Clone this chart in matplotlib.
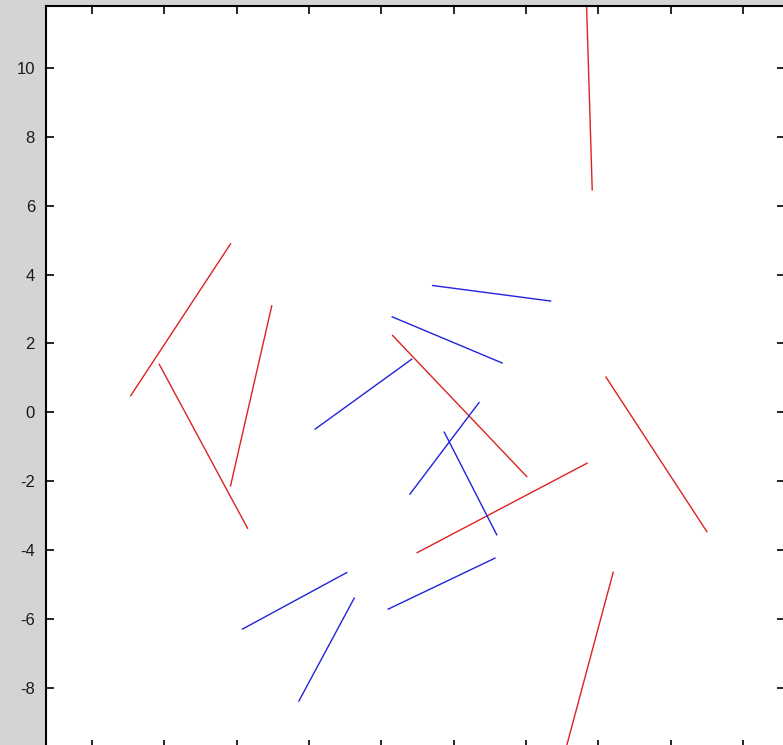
import matplotlib
matplotlib.use('Agg')
import matplotlib.pyplot as plt

# segment end points (data units), red set
red_x0 = [-6.93, -6.14, -3.03, 5.66, 0.31, 0.99, 6.21, 6.41]
red_y0 = [0.48, 1.39, 3.09, 12.27, 2.23, -4.08, 1.02, -4.65]
red_x1 = [-4.17, -3.70, -4.17, 5.83, 4.02, 5.69, 9.00, 4.98]
red_y1 = [4.89, -3.37, -2.14, 6.46, -1.87, -1.48, -3.47, -10.25]

# blue set
blue_x0 = [1.42, 0.30, -1.83, 0.79, 1.74, -3.84, 0.19, -2.28]
blue_y0 = [3.68, 2.77, -0.49, -2.38, -0.58, -6.30, -5.72, -8.39]
blue_x1 = [4.68, 3.34, 0.84, 2.70, 3.19, -0.96, 3.14, -0.75]
blue_y1 = [3.23, 1.43, 1.54, 0.28, -3.56, -4.66, -4.24, -5.40]

x_ticks = [-8, -6, -4, -2, 0, 2, 4, 6, 8, 10]
y_ticks = [-8, -6, -4, -2, 0, 2, 4, 6, 8, 10]


def plot():
    plt.rcParams['font.family'] = ['Liberation Sans', 'DejaVu Sans']
    plt.rcParams['axes.unicode_minus'] = False
    fig = plt.figure(figsize=(7.83, 7.45), dpi=100, facecolor='#d4d4d4')
    ax = fig.add_axes([46 / 783, -2.5 / 745, 739 / 783, 741.5 / 745])

    for i in range(len(red_x0)):
        ax.plot([red_x0[i], red_x1[i]], [red_y0[i], red_y1[i]],
                color='#dd2222', linewidth=1.0)
    for i in range(len(blue_x0)):
        ax.plot([blue_x0[i], blue_x1[i]], [blue_y0[i], blue_y1[i]],
                color='#2222dd', linewidth=1.0)

    ax.set_xlim(-9.272, 11.16)
    ax.set_ylim(-9.74, 11.80)
    ax.set_xticks(x_ticks)
    ax.set_yticks(y_ticks)
    ax.tick_params(direction='in', length=6, width=1.2, labelsize=12, pad=8,
                   top=True, right=True, colors='black')
    # x labels sit below the visible area in the original, so none show
    ax.tick_params(axis='x', labelbottom=False)
    ax.tick_params(axis='y', labelcolor='#1a1a1a')
    for spine in ax.spines.values():
        spine.set_linewidth(1.5)

    fig.savefig('out.png', dpi=100, facecolor=fig.get_facecolor())


def main():
    plot()


if __name__ == '__main__':
    main()
